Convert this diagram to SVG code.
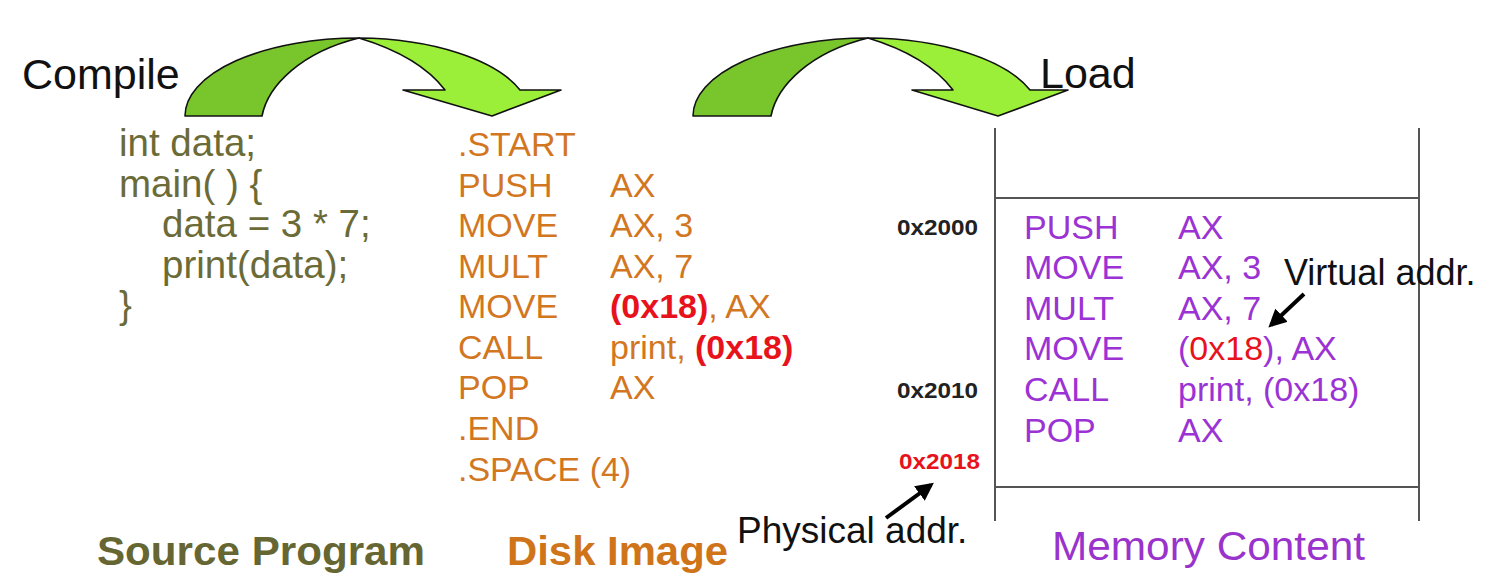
<svg xmlns="http://www.w3.org/2000/svg" width="1509" height="582" viewBox="0 0 1509 582">
<style>
text{font-family:"Liberation Sans",Arial,sans-serif}
.lbl{font-size:43px;fill:#111}
.src{font-size:38.5px;fill:#6b6b38}
.dsk{font-size:34px;fill:#d2771f}
.mem{font-size:34px;fill:#9b33d4}
.addr{font-size:22px;font-weight:bold;fill:#222}
.red{fill:#e8121c}
.b{font-weight:bold}
.note{font-size:36px;fill:#111}
.note2{font-size:37px;fill:#111}
.ttl{font-size:40px;font-weight:bold}
.dark{fill:#78c52c;stroke:#111;stroke-width:1.6;stroke-linejoin:round}
.light{fill:#9cef38;stroke:#111;stroke-width:1.6;stroke-linejoin:round}
.box{stroke:#555;stroke-width:2;fill:none}
.ptr{stroke:#000;stroke-width:4;fill:none;marker-end:url(#ah)}
</style>
<defs>
<marker id="ah" viewBox="0 0 10 10" refX="8" refY="5" markerWidth="4.5" markerHeight="4.5" orient="auto" markerUnits="strokeWidth">
<path d="M0,0 L10,5 L0,10 Z" fill="#000"/>
</marker>
</defs>
<rect width="1509" height="582" fill="#fff"/>

<g id="compile-arrow">
<path class="dark" d="M185,116 A174,78 0 0 1 359,38 C302,52 268,85 262,116 Z"/>
<path class="light" d="M359,38 A174,78 0 0 1 520,90 L561,90 L492,116 L403,90 L445,90 C426,65 392,48 359,38 Z"/>
<text class="lbl" x="22" y="89">Compile</text>
</g>

<g id="load-arrow">
<path class="dark" d="M693,116 A175,78 0 0 1 868,38 C811,52 777,85 771,116 Z"/>
<path class="light" d="M868,38 A175,78 0 0 1 1030,90 L1068,90 L998,116 L912,90 L953,90 C934,65 901,48 868,38 Z"/>
<text class="lbl" x="1040" y="88">Load</text>
</g>

<g id="source-program">
<text class="src" x="119" y="156">int data;</text>
<text class="src" x="119" y="197">main( ) {</text>
<text class="src" x="162" y="237">data = 3 * 7;</text>
<text class="src" x="162" y="278">print(data);</text>
<text class="src" x="119" y="318">}</text>
<text class="ttl" x="97" y="565" fill="#666633" textLength="328" lengthAdjust="spacingAndGlyphs">Source Program</text>
</g>

<g id="disk-image">
<text class="dsk" x="458" y="156">.START</text>
<text class="dsk" x="458" y="197">PUSH</text><text class="dsk" x="610" y="197">AX</text>
<text class="dsk" x="458" y="237">MOVE</text><text class="dsk" x="610" y="237">AX, 3</text>
<text class="dsk" x="458" y="278">MULT</text><text class="dsk" x="610" y="278">AX, 7</text>
<text class="dsk" x="458" y="318">MOVE</text><text class="dsk" x="610" y="318"><tspan class="red b">(0x18)</tspan>, AX</text>
<text class="dsk" x="458" y="359">CALL</text><text class="dsk" x="610" y="359">print, <tspan class="red b">(0x18)</tspan></text>
<text class="dsk" x="458" y="399">POP</text><text class="dsk" x="610" y="399">AX</text>
<text class="dsk" x="458" y="440">.END</text>
<text class="dsk" x="458" y="481">.SPACE (4)</text>
<text class="ttl" x="507" y="565" fill="#cf7418" textLength="221" lengthAdjust="spacingAndGlyphs">Disk Image</text>
</g>

<g id="memory-content">
<line class="box" x1="995" y1="128" x2="995" y2="521"/>
<line class="box" x1="1419" y1="128" x2="1419" y2="521"/>
<line class="box" x1="995" y1="198" x2="1419" y2="198"/>
<line class="box" x1="995" y1="487" x2="1419" y2="487"/>
<text class="mem" x="1024" y="239">PUSH</text><text class="mem" x="1178" y="239">AX</text>
<text class="mem" x="1024" y="279">MOVE</text><text class="mem" x="1178" y="279">AX, 3</text>
<text class="mem" x="1024" y="320">MULT</text><text class="mem" x="1178" y="320">AX, 7</text>
<text class="mem" x="1024" y="360">MOVE</text><text class="mem" x="1178" y="360">(<tspan class="red">0x18</tspan>), AX</text>
<text class="mem" x="1024" y="401">CALL</text><text class="mem" x="1178" y="401">print, (0x18)</text>
<text class="mem" x="1024" y="442">POP</text><text class="mem" x="1178" y="442">AX</text>
<text x="1052" y="560" font-size="40" fill="#9933cc" textLength="313" lengthAdjust="spacingAndGlyphs">Memory Content</text>
</g>

<g id="addresses">
<text class="addr" x="897" y="235" textLength="81" lengthAdjust="spacingAndGlyphs">0x2000</text>
<text class="addr" x="897" y="398" textLength="81" lengthAdjust="spacingAndGlyphs">0x2010</text>
<text class="addr red" x="899" y="469" textLength="81" lengthAdjust="spacingAndGlyphs">0x2018</text>
</g>

<g id="virtual-addr">
<text class="note" x="1284" y="285">Virtual addr.</text>
</g>
<g id="physical-addr">
<text class="note2" x="737" y="543">Physical addr.</text>
</g>

<g id="connectors">
<line class="ptr" x1="1304" y1="294" x2="1271" y2="325"/>
<line class="ptr" x1="886" y1="518" x2="931" y2="485"/>
</g>
</svg>
